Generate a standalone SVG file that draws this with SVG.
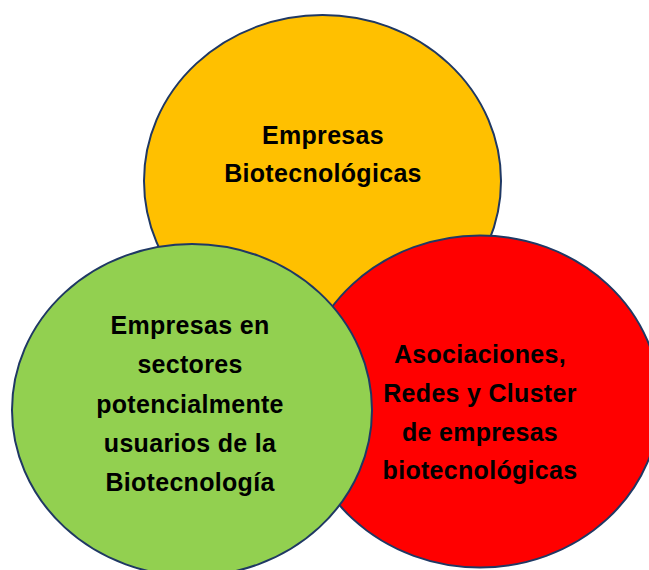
<svg xmlns="http://www.w3.org/2000/svg" width="649" height="570" viewBox="0 0 649 570">
  <style>
    .c { stroke: #1F3864; stroke-width: 2; }
    .t { font-family: "Liberation Sans", Arial, sans-serif; font-weight: bold; font-size: 25px; letter-spacing: 0.3px; fill: #000; text-anchor: middle; }
  </style>
  <rect width="649" height="570" fill="#FFFFFF"/>
  <g id="node-empresas-biotecnologicas">
    <ellipse class="c" cx="322.5" cy="181" rx="178.5" ry="166" fill="#FFC000"/>
    <text class="t" x="323" y="144">Empresas</text>
    <text class="t" x="323" y="182">Biotecnológicas</text>
  </g>
  <g id="node-asociaciones">
    <ellipse class="c" cx="480" cy="401.5" rx="180" ry="166" fill="#FF0000"/>
    <text class="t" x="480" y="363">Asociaciones,</text>
    <text class="t" x="480" y="402">Redes y Cluster</text>
    <text class="t" x="480" y="441">de empresas</text>
    <text class="t" x="480" y="479">biotecnológicas</text>
  </g>
  <g id="node-empresas-sectores">
    <ellipse class="c" cx="192" cy="410" rx="180" ry="166" fill="#92D050"/>
    <text class="t" x="190" y="334">Empresas en</text>
    <text class="t" x="190" y="373">sectores</text>
    <text class="t" x="190" y="413">potencialmente</text>
    <text class="t" x="190" y="452">usuarios de la</text>
    <text class="t" x="190" y="491">Biotecnología</text>
  </g>
  <g id="connectors"></g>
</svg>
